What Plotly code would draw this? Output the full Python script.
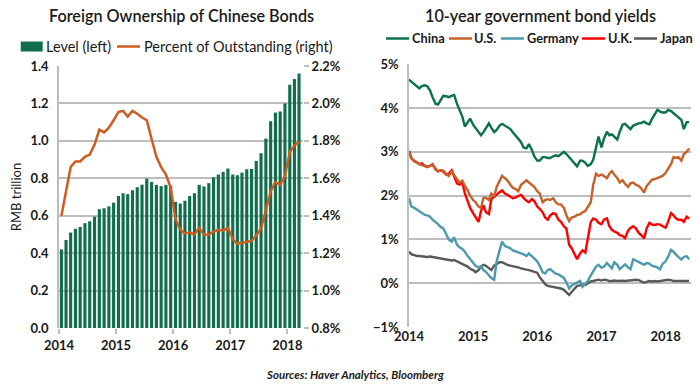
import plotly.graph_objects as go
import pandas as pd

# ---------------- data: left chart (monthly) ----------------
months = pd.date_range("2014-01-01", "2018-03-01", freq="MS")
level = [0.42, 0.47, 0.51, 0.53, 0.54, 0.56, 0.57, 0.595, 0.635, 0.64, 0.65, 0.67,
         0.705, 0.72, 0.715, 0.736, 0.752, 0.766, 0.798, 0.78, 0.765, 0.758, 0.765, 0.76,
         0.674, 0.665, 0.68, 0.705, 0.72, 0.765, 0.756, 0.774, 0.805, 0.82, 0.834, 0.852,
         0.82, 0.816, 0.83, 0.848, 0.85, 0.893, 0.934, 1.012, 1.105, 1.151, 1.157, 1.20,
         1.30, 1.33, 1.36]
pct_outstanding = [1.40, 1.54, 1.66, 1.69, 1.69, 1.715, 1.727, 1.78, 1.86, 1.845, 1.87, 1.91,
                   1.955, 1.96, 1.93, 1.96, 1.945, 1.925, 1.91, 1.81, 1.715, 1.66, 1.62, 1.55,
                   1.38, 1.325, 1.305, 1.31, 1.30, 1.335, 1.297, 1.30, 1.315, 1.325, 1.32, 1.335,
                   1.275, 1.25, 1.255, 1.26, 1.265, 1.295, 1.33, 1.43, 1.53, 1.58, 1.565, 1.61,
                   1.74, 1.775, 1.795]

# ---------------- data: right chart (semi-monthly) ----------------
yield_dates = pd.date_range("2014-01-01", periods=106, freq="SMS")
china = [4.65, 4.60, 4.55, 4.48, 4.45, 4.50, 4.52, 4.50, 4.40, 4.25, 4.10, 4.08,
         4.18, 4.28, 4.27, 4.25, 4.28, 4.30, 4.10, 3.95, 3.80, 3.58, 3.68, 3.76,
         3.62, 3.55, 3.45, 3.38, 3.45, 3.55, 3.65, 3.55, 3.45, 3.50, 3.60, 3.64,
         3.60, 3.55, 3.52, 3.45, 3.38, 3.30, 3.22, 3.10, 3.08, 3.18, 3.05, 2.90,
         2.80, 2.80, 2.88, 2.88, 2.86, 2.86, 2.90, 2.92, 2.90, 2.95, 3.00, 2.95,
         2.88, 2.80, 2.75, 2.67, 2.80, 2.80, 2.75, 2.68, 2.72, 2.82, 3.10, 3.35,
         3.10, 3.30, 3.46, 3.38, 3.40, 3.35, 3.28, 3.46, 3.62, 3.64, 3.58, 3.52,
         3.60, 3.63, 3.65, 3.66, 3.69, 3.65, 3.63, 3.75, 3.88, 3.96, 3.92, 3.90,
         3.90, 3.96, 3.93, 3.88, 3.83, 3.79, 3.73, 3.52, 3.68, 3.68]
us = [3.00, 2.85, 2.80, 2.75, 2.72, 2.70, 2.68, 2.65, 2.68, 2.70, 2.62, 2.55,
      2.58, 2.57, 2.50, 2.45, 2.55, 2.48, 2.38, 2.30, 2.34, 2.22, 2.12, 2.00,
      1.90, 1.85, 1.75, 1.72, 1.95, 1.95, 1.90, 2.05, 1.98, 2.20, 2.35, 2.45,
      2.40, 2.35, 2.25, 2.18, 2.15, 2.10, 2.25, 2.30, 2.35, 2.30, 2.25, 2.20,
      2.10, 2.05, 1.85, 1.90, 1.92, 1.90, 1.94, 1.85, 1.80, 1.80, 1.72, 1.55,
      1.42, 1.50, 1.52, 1.56, 1.57, 1.62, 1.65, 1.75, 1.85, 2.25, 2.50, 2.45,
      2.48, 2.45, 2.40, 2.50, 2.56, 2.48, 2.40, 2.30, 2.35, 2.27, 2.20, 2.28,
      2.30, 2.25, 2.22, 2.17, 2.07, 2.22, 2.30, 2.36, 2.38, 2.40, 2.42, 2.45,
      2.52, 2.62, 2.72, 2.88, 2.86, 2.88, 2.80, 2.95, 3.00, 3.08]
germany = [1.94, 1.75, 1.72, 1.68, 1.66, 1.60, 1.56, 1.55, 1.52, 1.45, 1.40, 1.35,
           1.28, 1.25, 1.12, 1.00, 0.95, 1.05, 0.88, 0.82, 0.78, 0.72, 0.62, 0.55,
           0.48, 0.40, 0.36, 0.39, 0.30, 0.26, 0.18, 0.12, 0.08, 0.50, 0.75, 0.95,
           0.85, 0.82, 0.80, 0.75, 0.73, 0.70, 0.68, 0.66, 0.62, 0.68, 0.62, 0.58,
           0.50, 0.40, 0.25, 0.22, 0.30, 0.32, 0.26, 0.22, 0.20, 0.16, 0.12, 0.02,
           -0.12, -0.05, -0.02, 0.02, 0.05, -0.08, -0.02, 0.05, 0.18, 0.26, 0.38, 0.42,
           0.35, 0.38, 0.46, 0.40, 0.34, 0.48, 0.42, 0.32, 0.38, 0.43, 0.36, 0.32,
           0.55, 0.52, 0.50, 0.46, 0.42, 0.46, 0.45, 0.40, 0.38, 0.36, 0.32, 0.44,
           0.50, 0.60, 0.76, 0.72, 0.65, 0.60, 0.54, 0.60, 0.62, 0.55]
uk = [3.02, 2.85, 2.78, 2.76, 2.72, 2.74, 2.68, 2.66, 2.68, 2.72, 2.60, 2.56,
      2.58, 2.55, 2.48, 2.50, 2.58, 2.42, 2.28, 2.25, 2.30, 2.05, 1.85, 1.72,
      1.60, 1.50, 1.40, 1.65, 1.78, 1.62, 1.58, 1.92, 1.98, 2.02, 2.08, 2.12,
      2.05, 2.02, 1.98, 1.94, 1.96, 1.98, 2.02, 1.95, 1.88, 1.85, 1.92, 1.88,
      1.75, 1.70, 1.62, 1.50, 1.45, 1.55, 1.60, 1.58, 1.45, 1.40, 1.30, 1.25,
      0.88, 0.80, 0.65, 0.55, 0.68, 0.75, 0.70, 1.05, 1.40, 1.48, 1.45, 1.38,
      1.35, 1.45, 1.48, 1.30, 1.22, 1.18, 1.15, 1.10, 1.08, 1.03, 1.20, 1.26,
      1.30, 1.26, 1.15, 1.10, 1.02, 1.25, 1.38, 1.34, 1.33, 1.35, 1.34, 1.30,
      1.27, 1.40, 1.60, 1.55, 1.48, 1.45, 1.45, 1.40, 1.52, 1.48]
japan = [0.72, 0.66, 0.64, 0.62, 0.62, 0.61, 0.61, 0.60, 0.61, 0.60, 0.58, 0.57,
         0.56, 0.54, 0.54, 0.52, 0.52, 0.53, 0.50, 0.48, 0.45, 0.42, 0.38, 0.33,
         0.30, 0.25, 0.30, 0.38, 0.42, 0.40, 0.35, 0.30, 0.40, 0.44, 0.48, 0.48,
         0.44, 0.42, 0.40, 0.39, 0.38, 0.36, 0.34, 0.32, 0.31, 0.30, 0.28, 0.27,
         0.24, 0.14, 0.04, -0.02, -0.06, -0.07, -0.08, -0.10, -0.10, -0.12, -0.15, -0.20,
         -0.27, -0.20, -0.12, -0.06, -0.05, -0.03, -0.04, 0.00, 0.04, 0.05, 0.07, 0.08,
         0.06, 0.08, 0.07, 0.05, 0.05, 0.06, 0.05, 0.06, 0.06, 0.05, 0.06, 0.07,
         0.08, 0.08, 0.07, 0.04, 0.01, 0.03, 0.05, 0.04, 0.05, 0.04, 0.05, 0.05,
         0.07, 0.08, 0.07, 0.05, 0.05, 0.05, 0.04, 0.05, 0.05, 0.05]

year_ticks = ["2014-01-01", "2015-01-01", "2016-01-01", "2017-01-01", "2018-01-01"]
year_labels = ["2014", "2015", "2016", "2017", "2018"]

# ---------------- styles ----------------
W, H = 700, 384
FONT = "Lato"
GREEN_BAR = "#0f6e4c"
ORANGE = "#cf5b1f"
C_CHINA = "#0b7148"
C_US = "#c5612a"
C_GER = "#4b9aae"
C_UK = "#ff0000"
C_JPN = "#595959"
GRID = "#bdbdbd"
TXT = "#1a1a1a"

def px(x):
    return x / W

def py(y):
    return 1 - y / H

fig = go.Figure()

fig.add_trace(go.Bar(x=months, y=level, xperiod="M1", xperiodalignment="middle",
                     marker=dict(color=GREEN_BAR, line=dict(width=0)),
                     xaxis="x", yaxis="y", name="Level (left)", showlegend=False))
fig.add_trace(go.Scatter(x=months, y=pct_outstanding, xperiod="M1", xperiodalignment="middle",
                         mode="lines", line=dict(color=ORANGE, width=2.5),
                         xaxis="x", yaxis="y2", name="Percent of Outstanding (right)",
                         showlegend=False))

for name, vals, col in [("Japan", japan, C_JPN), ("Germany", germany, C_GER),
                        ("U.K.", uk, C_UK), ("U.S.", us, C_US), ("China", china, C_CHINA)]:
    fig.add_trace(go.Scatter(x=yield_dates, y=vals, mode="lines",
                             line=dict(color=col, width=2.4),
                             xaxis="x2", yaxis="y3", name=name, showlegend=False))

tickfont = dict(family=FONT, size=13, color=TXT, weight="bold")

fig.update_layout(
    width=W, height=H, margin=dict(l=0, r=0, t=0, b=0, autoexpand=False),
    paper_bgcolor="white", plot_bgcolor="white",
    bargap=0.32, showlegend=False,
    xaxis=dict(domain=[px(59), px(303)], type="date", automargin=False,
               range=["2014-01-01", "2018-04-11"],
               tickvals=year_ticks, ticktext=year_labels, tickfont=tickfont,
               ticks="outside", ticklen=5, tickcolor=GRID, tickwidth=1.5,
               showgrid=False, showline=False, zeroline=False, anchor="y"),
    yaxis=dict(domain=[py(328), py(66)], range=[0, 1.4], dtick=0.2, tickformat=".1f",
               automargin=False,
               tickfont=tickfont, showgrid=True, gridcolor=GRID, gridwidth=1.5,
               showline=True, linecolor=GRID, linewidth=1.5, zeroline=False,
               ticks="", ticklabelstandoff=6, anchor="x",
               title=dict(text="RMB trillion", font=dict(family=FONT, size=13, color=TXT),
                          standoff=6)),
    yaxis2=dict(overlaying="y", side="right", range=[0.8, 2.2], dtick=0.2,
                automargin=False,
                tickformat=".1f", ticksuffix="%", tickfont=tickfont,
                showgrid=False, showline=False, zeroline=False,
                ticks="outside", ticklen=5, tickcolor=GRID, tickwidth=1.5,
                anchor="x"),
    xaxis2=dict(domain=[px(409), px(690.7)], type="date", automargin=False,
                range=["2014-01-01", "2018-05-24"],
                tickvals=year_ticks, ticktext=year_labels, tickfont=tickfont,
                ticks="", showgrid=False, showline=False, zeroline=False, anchor="y3"),
    xaxis3=dict(overlaying="x2", type="date", range=["2014-01-01", "2018-05-24"],
                automargin=False,
                tickvals=year_ticks, showticklabels=False,
                ticks="outside", ticklen=5, tickcolor=GRID, tickwidth=1.5,
                showgrid=False, showline=False, zeroline=False,
                anchor="free", position=py(283.7)),
    yaxis3=dict(domain=[py(327), py(64.3)], range=[-1, 5], dtick=1, ticksuffix="%",
                automargin=False,
                tickfont=tickfont, showgrid=True, gridcolor=GRID, gridwidth=1.5,
                showline=True, linecolor=GRID, linewidth=1.5, zeroline=False,
                ticks="", ticklabelstandoff=6, anchor="x2"),
)

# titles
fig.add_annotation(text="Foreign Ownership of Chinese Bonds", x=px(181), y=py(15),
                   xanchor="center", yanchor="middle",
                   xref="paper", yref="paper", showarrow=False,
                   font=dict(family=FONT, size=16.2, color=TXT, weight=600))
fig.add_annotation(text="10-year government bond yields", x=px(540), y=py(15),
                   xanchor="center", yanchor="middle",
                   xref="paper", yref="paper", showarrow=False,
                   font=dict(family=FONT, size=16.2, color=TXT, weight=600))

# left legend (manual)
fig.add_shape(type="rect", xref="paper", yref="paper",
              x0=px(20.7), x1=px(42.7), y0=py(51.5), y1=py(41.5),
              fillcolor=GREEN_BAR, line=dict(width=0))
fig.add_annotation(text="Level (left)", x=px(43.5), y=py(46.5), xanchor="left",
                   yanchor="middle",
                   xref="paper", yref="paper", showarrow=False,
                   font=dict(family=FONT, size=14.5, color=TXT))
fig.add_shape(type="line", xref="paper", yref="paper",
              x0=px(117), x1=px(140), y0=py(46.5), y1=py(46.5),
              line=dict(color=ORANGE, width=2.5))
fig.add_annotation(text="Percent of Outstanding (right)", x=px(141.5), y=py(46.5),
                   xanchor="left", yanchor="middle",
                   xref="paper", yref="paper", showarrow=False,
                   font=dict(family=FONT, size=14.5, color=TXT))

# right legend (manual)
leg_items = [("China", C_CHINA, 386, 410), ("U.S.", C_US, 449, 472),
             ("Germany", C_GER, 501, 525), ("U.K.", C_UK, 582, 606),
             ("Japan", C_JPN, 634, 658)]
for name, col, lx, tx in leg_items:
    fig.add_shape(type="line", xref="paper", yref="paper",
                  x0=px(lx), x1=px(lx + 23), y0=py(38.5), y1=py(38.5),
                  line=dict(color=col, width=2.5))
    fig.add_annotation(text=name, x=px(tx), y=py(38.5), xanchor="left", yanchor="middle",
                       xref="paper", yref="paper", showarrow=False,
                       font=dict(family=FONT, size=12.8, color=TXT, weight="bold"))

# source
fig.add_annotation(text="<i>Sources: Haver Analytics, Bloomberg</i>", x=px(355), y=py(374),
                   xanchor="center", yanchor="middle",
                   xref="paper", yref="paper", showarrow=False,
                   font=dict(family=FONT, size=11.5, color=TXT, weight="bold"))

fig.write_html("out.html",
               config={"displayModeBar": False},
               post_script="document.body.style.margin='0px';document.body.style.padding='0px';")
